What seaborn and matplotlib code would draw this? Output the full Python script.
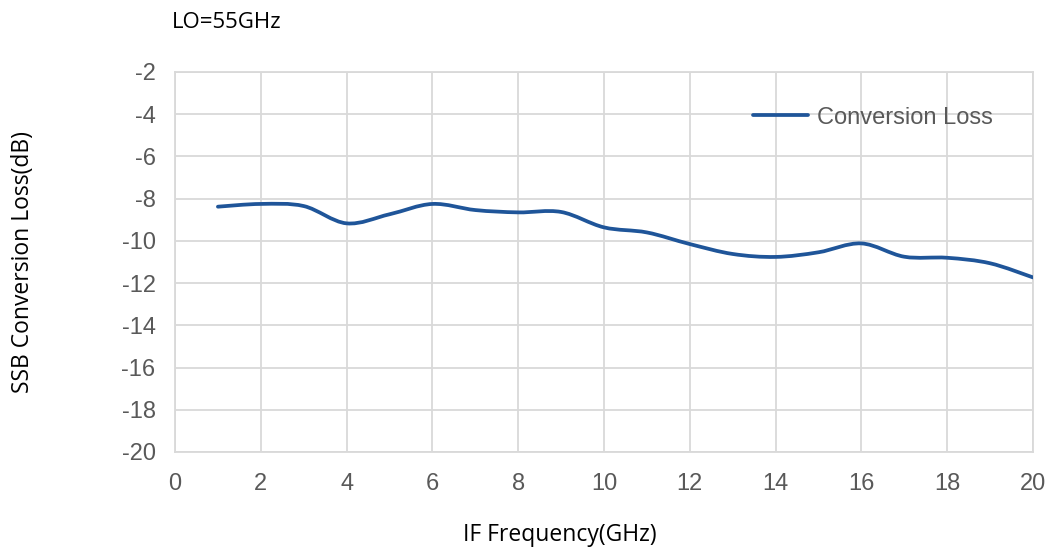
import numpy as np
import pandas as pd
import seaborn as sns
import matplotlib.pyplot as plt
from matplotlib.path import Path
from matplotlib.patches import PathPatch
from matplotlib.lines import Line2D

# IF frequency (GHz) and measured SSB conversion loss (dB)
freq = [1, 2, 3, 4, 5, 6, 7, 8, 9, 10, 11, 12, 13, 14, 15, 16, 17, 18, 19, 20]
loss = [-8.38, -8.25, -8.35, -9.17, -8.74, -8.25, -8.54, -8.65, -8.63, -9.36,
        -9.6, -10.15, -10.62, -10.76, -10.54, -10.12, -10.75, -10.8, -11.06, -11.73]
series_name = 'Conversion Loss'
title = 'LO=55GHz'
x_label = 'IF Frequency(GHz)'
y_label = 'SSB Conversion Loss(dB)'

line_color = '#1F5599'
grid_color = '#D9D9D9'
tick_color = '#595959'

sns.set_theme(style='white')
plt.rcParams['font.family'] = ['Liberation Sans', 'DejaVu Sans']
plt.rcParams['axes.unicode_minus'] = False

df = pd.DataFrame({'freq': freq, 'loss': loss})

fig = plt.figure(figsize=(10.55, 5.5), dpi=100)
ax = fig.add_axes([0.1659, 0.1782, 0.8132, 0.6909])

sns.lineplot(data=df, x='freq', y='loss', ax=ax, color=line_color, legend=False)

# replace the straight segments with a smoothed (Excel-like) Bezier path through the same points
raw = ax.lines[0]
raw.set_visible(False)
pts = np.column_stack([df['freq'], df['loss']]).astype(float)
ext = np.vstack([pts[0], pts, pts[-1]])
verts = [tuple(pts[0])]
codes = [Path.MOVETO]
for i in range(1, len(ext) - 2):
    p0, p1, p2, p3 = ext[i - 1], ext[i], ext[i + 1], ext[i + 2]
    c1 = p1 + (p2 - p0) / 6.0
    c2 = p2 - (p3 - p1) / 6.0
    verts += [tuple(c1), tuple(c2), tuple(p2)]
    codes += [Path.CURVE4] * 3
ax.add_patch(PathPatch(Path(verts, codes), facecolor='none', edgecolor=line_color,
                       lw=2.7, capstyle='round', joinstyle='round', zorder=3))

ax.set_xlim(0, 20)
ax.set_ylim(-20, -2)
ax.set_xticks(np.arange(0, 21, 2))
ax.set_yticks(np.arange(-20, -1, 2))
ax.grid(True, color=grid_color, lw=1.3)
for s in ax.spines.values():
    s.set_color(grid_color)
    s.set_linewidth(1.3)
ax.tick_params(axis='both', length=0, labelsize=17, labelcolor=tick_color)
ax.tick_params(axis='x', pad=15)
ax.tick_params(axis='y', pad=14)

lab_font = ['Open Sans', 'DejaVu Sans']
ax.set_xlabel(x_label, fontsize=16.5, family=lab_font, color='black', labelpad=20)
ax.xaxis.label.set_x(0.449)
ax.set_ylabel(y_label, fontsize=16.5, family=lab_font, color='black', labelpad=62)
fig.text(172 / 1055, 1 - 22 / 550, title, fontsize=16, family=lab_font,
         ha='left', va='center', color='black')

handle = Line2D([], [], color=line_color, lw=2.7)
leg = ax.legend([handle], [series_name], loc='upper right', bbox_to_anchor=(0.978, 0.965),
                frameon=False, fontsize=17, handlelength=2.3, handletextpad=0.4)
for t in leg.get_texts():
    t.set_color(tick_color)

fig.savefig('out.png', dpi=100)
